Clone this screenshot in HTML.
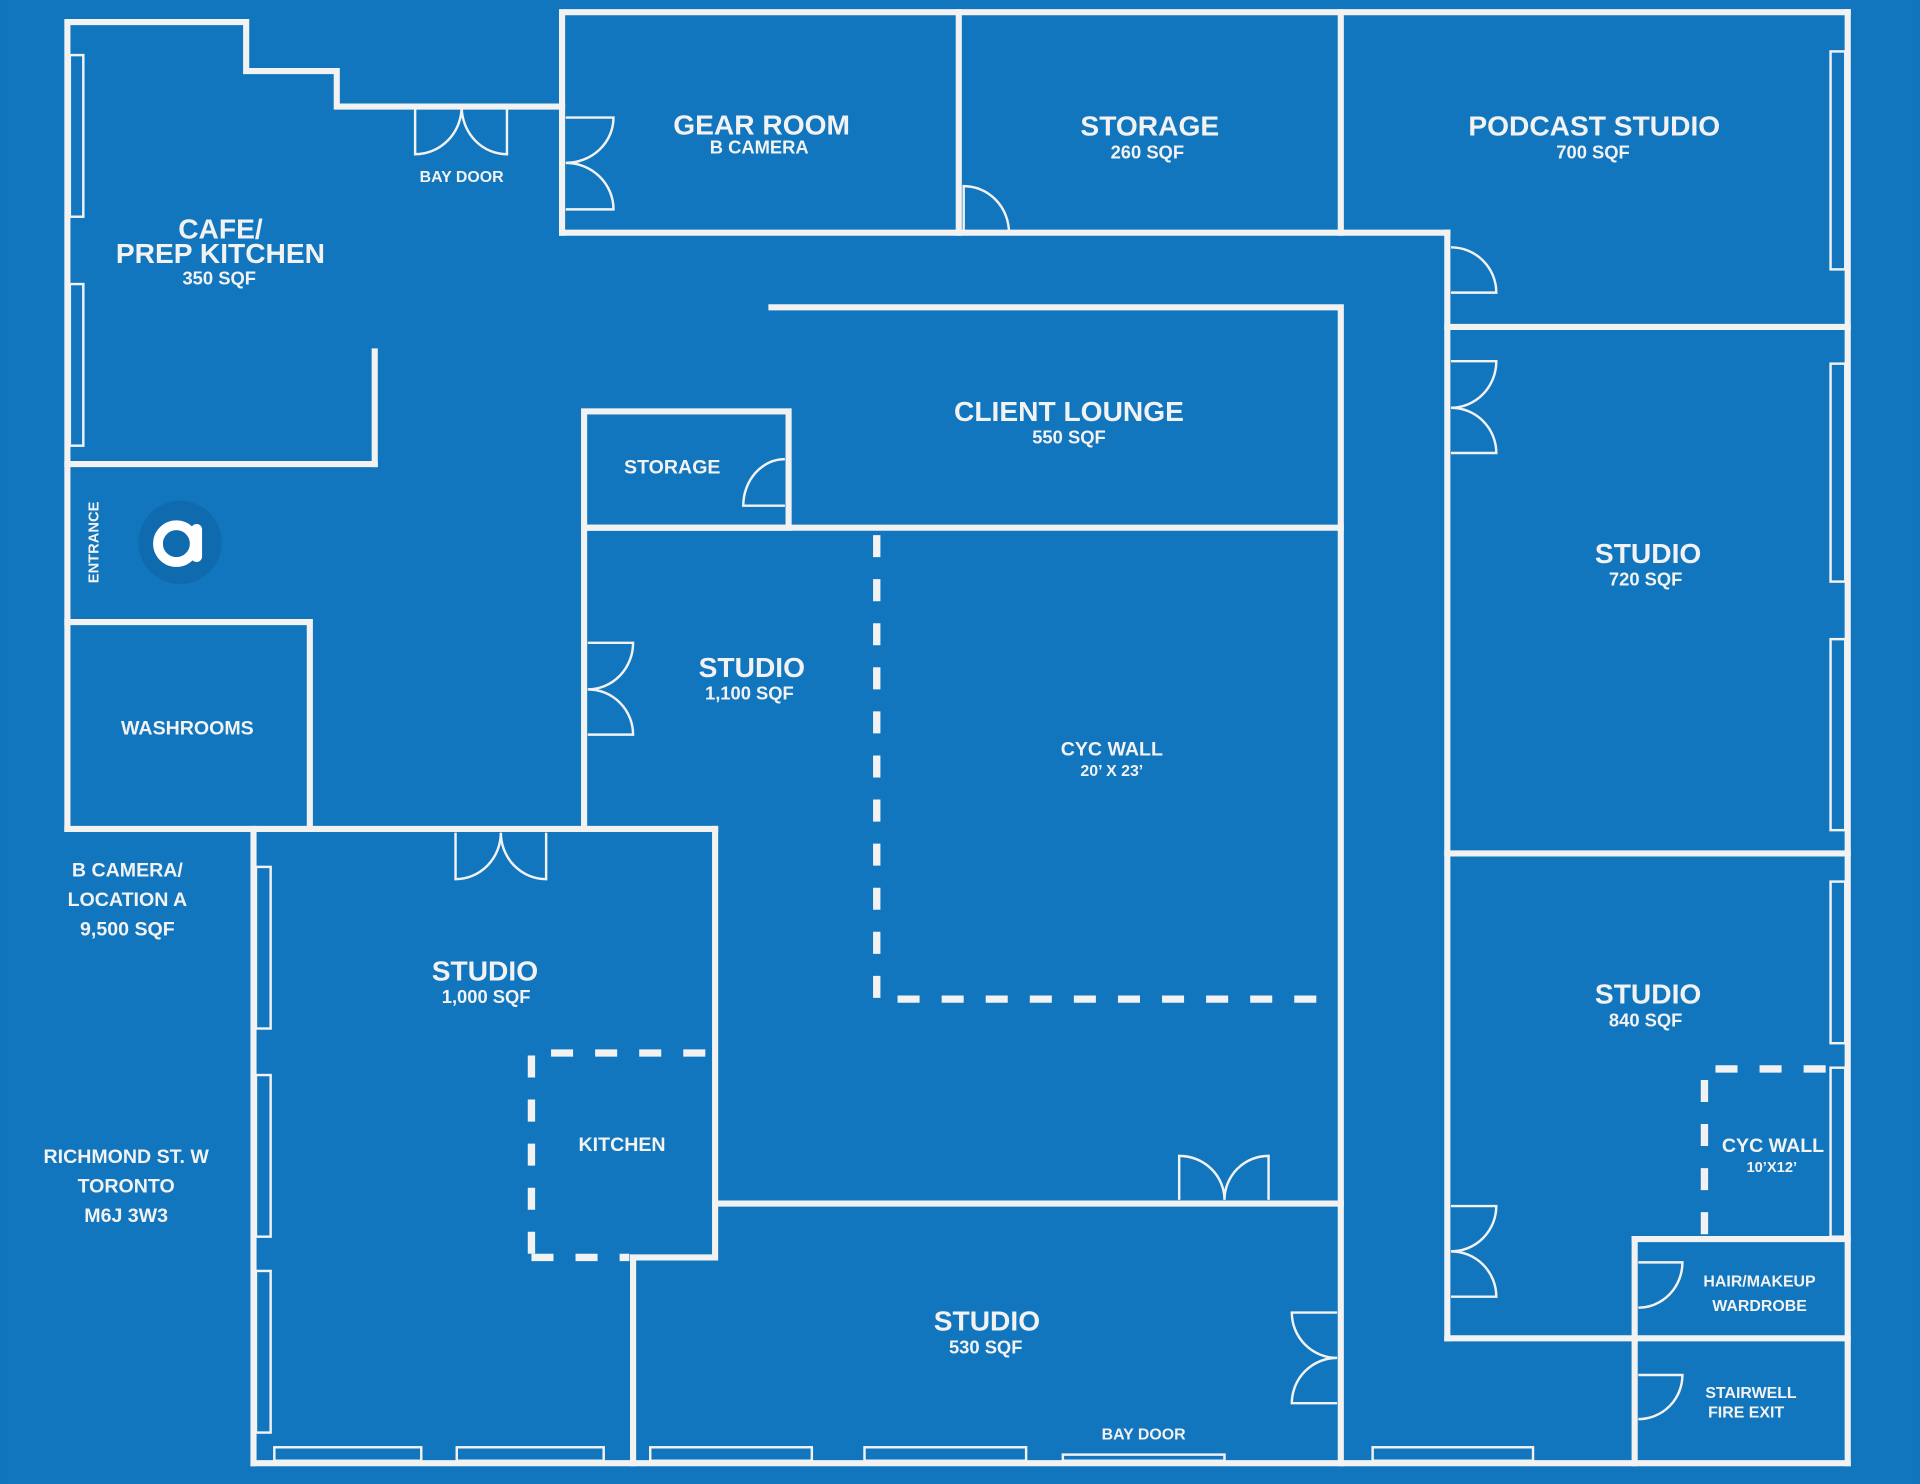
<!DOCTYPE html>
<html><head><meta charset="utf-8"><style>
html,body{margin:0;padding:0;background:#1176bd;}
svg{display:block}
text{font-family:"Liberation Sans",sans-serif;font-weight:bold;fill:#f2f2f2;text-anchor:middle;dominant-baseline:central}
</style></head><body>
<svg width="1920" height="1484" viewBox="0 0 1568 1212" xmlns="http://www.w3.org/2000/svg">
<rect width="1568" height="1212" fill="#1176bd"/>
<g fill="none" stroke="#f2f2f2" stroke-width="5" stroke-linecap="square">
<polyline points="55,677 55,18 201,18 201,58 275,58 275,87 459,87"/>
<line x1="55" y1="379" x2="306" y2="379"/>
<line x1="306" y1="287" x2="306" y2="379"/>
<polyline points="459,190 459,10 1509,10"/>
<line x1="459" y1="190" x2="1182" y2="190"/>
<line x1="783" y1="10" x2="783" y2="190"/>
<line x1="1095" y1="10" x2="1095" y2="190"/>
<line x1="1509" y1="10" x2="1509" y2="1195"/>
<line x1="1182" y1="190" x2="1182" y2="1093"/>
<line x1="1182" y1="267" x2="1509" y2="267"/>
<line x1="1182" y1="697" x2="1509" y2="697"/>
<line x1="1182" y1="1093" x2="1509" y2="1093"/>
<line x1="1335" y1="1012" x2="1509" y2="1012"/>
<line x1="1335" y1="1012" x2="1335" y2="1195"/>
<polyline points="630,251 1095,251 1095,1195"/>
<line x1="477" y1="431" x2="1095" y2="431"/>
<rect x="477" y="336" width="167" height="95"/>
<line x1="477" y1="431" x2="477" y2="677"/>
<polyline points="55,508 253,508 253,677"/>
<line x1="55" y1="677" x2="584" y2="677"/>
<line x1="207" y1="677" x2="207" y2="1195"/>
<polyline points="584,677 584,1027 517,1027 517,1195"/>
<line x1="584" y1="983" x2="1095" y2="983"/>
<line x1="207" y1="1195" x2="1509" y2="1195"/>
</g>
<g fill="none" stroke="#f2f2f2" stroke-width="6" stroke-dasharray="18,18">
<polyline points="716,437 716,816 1092,816"/>
<polyline points="434,1024 434,860 581,860"/>
<line x1="434" y1="1027" x2="514" y2="1027"/>
<polyline points="1392,1008 1392,873 1506,873"/>
</g>
<g fill="none" stroke="#f2f2f2" stroke-width="2">
<rect x="57" y="45" width="11" height="132"/>
<rect x="57" y="232" width="11" height="132"/>
<rect x="1495" y="42" width="12" height="178"/>
<rect x="1495" y="297" width="12" height="178"/>
<rect x="1495" y="522" width="12" height="156"/>
<rect x="1495" y="720" width="12" height="132"/>
<rect x="1495" y="872" width="12" height="138"/>
<rect x="209" y="708" width="12" height="132"/>
<rect x="209" y="878" width="12" height="132"/>
<rect x="209" y="1038" width="12" height="132"/>
<rect x="224" y="1182" width="120" height="11"/>
<rect x="373" y="1182" width="120" height="11"/>
<rect x="531" y="1182" width="132" height="11"/>
<rect x="706" y="1182" width="132" height="11"/>
<rect x="868" y="1188" width="132" height="5"/>
<rect x="1121" y="1182" width="131" height="11"/>
</g>
<g fill="none" stroke="#f2f2f2" stroke-width="2">
<path d="M462,96 H501 A39,37 0 0 1 462,133 M462,171 H501 A39,38 0 0 0 462,133"/>
<path d="M339,87 V126 A38,39 0 0 0 377,87 M414,87 V126 A37,39 0 0 1 377,87"/>
<path d="M787,190 V152 A37,38 0 0 1 824,190"/>
<path d="M1185,239 H1222 A37,37 0 0 0 1185,202"/>
<path d="M1185,295 H1222 A37,38 0 0 1 1185,333 M1185,370 H1222 A37,37 0 0 0 1185,333"/>
<path d="M641,413 H607 A34,38 0 0 1 641,375"/>
<path d="M480,525 H517 A37,38 0 0 1 480,563 M480,600 H517 A37,37 0 0 0 480,563"/>
<path d="M372,680 V718 A37,38 0 0 0 409,680 M446,680 V718 A37,38 0 0 1 409,680"/>
<path d="M963,980 V944 A37,36 0 0 1 1000,980 M1036,980 V944 A36,36 0 0 0 1000,980"/>
<path d="M1185,985 H1222 A37,37 0 0 1 1185,1022 M1185,1059 H1222 A37,37 0 0 0 1185,1022"/>
<path d="M1092,1072 H1055 A37,37 0 0 0 1092,1109 M1092,1146 H1055 A37,37 0 0 1 1092,1109"/>
<path d="M1338,1031 H1374 A36,37 0 0 1 1338,1068"/>
<path d="M1338,1123 H1374 A36,36 0 0 1 1338,1159"/>
</g>
<circle cx="147" cy="443" r="34" fill="#0f6aae"/>
<circle cx="144" cy="444" r="15" fill="none" stroke="#fff" stroke-width="8"/>
<rect x="156" y="428" width="9" height="31" rx="4.5" fill="#fff"/>
<text x="622" y="102" font-size="23">GEAR ROOM</text>
<text x="620" y="120" font-size="15">B CAMERA</text>
<text x="939" y="103" font-size="23">STORAGE</text>
<text x="937" y="124" font-size="15">260 SQF</text>
<text x="1302" y="103" font-size="23">PODCAST STUDIO</text>
<text x="1301" y="124" font-size="15">700 SQF</text>
<text x="180" y="187" font-size="23">CAFE/</text>
<text x="180" y="207" font-size="23">PREP KITCHEN</text>
<text x="179" y="227" font-size="15">350 SQF</text>
<text x="377" y="145" font-size="13">BAY DOOR</text>
<text x="873" y="336" font-size="23">CLIENT LOUNGE</text>
<text x="873" y="357" font-size="15">550 SQF</text>
<text x="549" y="382" font-size="16">STORAGE</text>
<text x="0" y="0" font-size="12" transform="translate(77,443) rotate(-90)">ENTRANCE</text>
<text x="614" y="545" font-size="23">STUDIO</text>
<text x="612" y="566" font-size="15">1,100 SQF</text>
<text x="908" y="612" font-size="16">CYC WALL</text>
<text x="908" y="630" font-size="13">20’ X 23’</text>
<text x="1346" y="452" font-size="23">STUDIO</text>
<text x="1344" y="473" font-size="15">720 SQF</text>
<text x="153" y="595" font-size="16">WASHROOMS</text>
<text x="104" y="711" font-size="16">B CAMERA/</text>
<text x="104" y="735" font-size="16">LOCATION A</text>
<text x="104" y="759" font-size="16">9,500 SQF</text>
<text x="396" y="793" font-size="23">STUDIO</text>
<text x="397" y="814" font-size="15">1,000 SQF</text>
<text x="508" y="935" font-size="16">KITCHEN</text>
<text x="103" y="945" font-size="16">RICHMOND ST. W</text>
<text x="103" y="969" font-size="16">TORONTO</text>
<text x="103" y="993" font-size="16">M6J 3W3</text>
<text x="1346" y="812" font-size="23">STUDIO</text>
<text x="1344" y="833" font-size="15">840 SQF</text>
<text x="1448" y="936" font-size="16">CYC WALL</text>
<text x="1447" y="954" font-size="12">10’X12’</text>
<text x="1437" y="1047" font-size="13">HAIR/MAKEUP</text>
<text x="1437" y="1067" font-size="13">WARDROBE</text>
<text x="806" y="1079" font-size="23">STUDIO</text>
<text x="805" y="1100" font-size="15">530 SQF</text>
<text x="934" y="1172" font-size="13">BAY DOOR</text>
<text x="1430" y="1138" font-size="13">STAIRWELL</text>
<text x="1426" y="1154" font-size="13">FIRE EXIT</text>
</svg>
</body></html>
